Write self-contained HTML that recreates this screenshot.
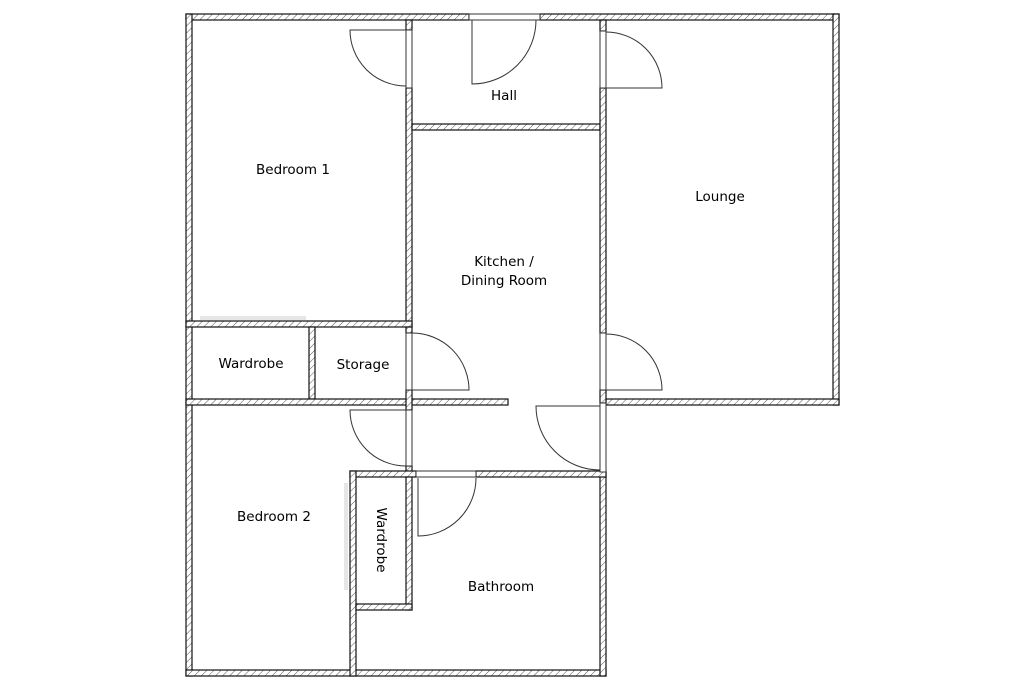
<!DOCTYPE html>
<html><head><meta charset="utf-8"><style>
html,body{margin:0;padding:0;background:#fff;}
svg{display:block;}
text{font-family:"DejaVu Sans","Liberation Sans",sans-serif;font-size:13.5px;fill:#000;}
</style></head><body>
<svg width="1024" height="684" viewBox="0 0 1024 684" xmlns="http://www.w3.org/2000/svg">
<defs>
<pattern id="h" patternUnits="userSpaceOnUse" width="5" height="5" patternTransform="rotate(45)">
<rect width="5" height="5" fill="#fff"/>
<line x1="0" y1="0" x2="0" y2="5" stroke="#555" stroke-width="1"/>
</pattern>
</defs>
<rect x="200" y="316" width="106" height="4" fill="#e6e6e6"/>
<rect x="344" y="483" width="4" height="107" fill="#e6e6e6"/>
<g fill="url(#h)" stroke="#111" stroke-width="1.2">
<rect x="186" y="14" width="283" height="6"/>
<rect x="540" y="14" width="299" height="6"/>
<rect x="186" y="14" width="6" height="662"/>
<rect x="186" y="670" width="420" height="6"/>
<rect x="833" y="14" width="6" height="391"/>
<rect x="606" y="399" width="233" height="6"/>
<rect x="406" y="88" width="6" height="239"/>
<rect x="406" y="20" width="6" height="10"/>
<rect x="412" y="124" width="188" height="6"/>
<rect x="600" y="20" width="6" height="11"/>
<rect x="600" y="88" width="6" height="245"/>
<rect x="600" y="390" width="6" height="13"/>
<rect x="600" y="472" width="6" height="204"/>
<rect x="186" y="321" width="226" height="6"/>
<rect x="309" y="327" width="6" height="72"/>
<rect x="186" y="399" width="322" height="6"/>
<rect x="406" y="327" width="6" height="6"/>
<rect x="406" y="390" width="6" height="20"/>
<rect x="406" y="466" width="6" height="10"/>
<rect x="350" y="471" width="66" height="6"/>
<rect x="476" y="471" width="130" height="6"/>
<rect x="350" y="471" width="6" height="205"/>
<rect x="406" y="477" width="6" height="133"/>
<rect x="356" y="604" width="56" height="6"/>
</g>
<g fill="#fff" stroke="#333" stroke-width="1">
<rect x="469" y="14" width="71" height="6"/>
<rect x="406" y="30" width="6" height="58"/>
<rect x="600" y="31" width="6" height="57"/>
<rect x="600" y="333" width="6" height="57"/>
<rect x="600" y="403" width="6" height="69"/>
<rect x="406" y="333" width="6" height="57"/>
<rect x="406" y="410" width="6" height="56"/>
<rect x="416" y="471" width="60" height="6"/>
</g>
<g fill="none" stroke="#333" stroke-width="1">
<path d="M406 30 H350 A56 56 0 0 0 406 86"/>
<path d="M472 20 V84 A64 64 0 0 0 536 20"/>
<path d="M606 88 H662 A56 56 0 0 0 606 32"/>
<path d="M412 390 H469 A57 57 0 0 0 412 333"/>
<path d="M606 390 H662 A56 56 0 0 0 606 334"/>
<path d="M600 406 H536 A64 64 0 0 0 600 470"/>
<path d="M406 410 H350 A56 56 0 0 0 406 466"/>
<path d="M418 478 V536 A58 58 0 0 0 476 478"/>
</g>
<text x="293" y="174" text-anchor="middle">Bedroom 1</text>
<text x="504" y="100" text-anchor="middle">Hall</text>
<text x="720" y="201" text-anchor="middle">Lounge</text>
<text x="504" y="266" text-anchor="middle">Kitchen /</text>
<text x="504" y="285" text-anchor="middle">Dining Room</text>
<text x="251" y="368" text-anchor="middle">Wardrobe</text>
<text x="363" y="369" text-anchor="middle">Storage</text>
<text x="274" y="521" text-anchor="middle">Bedroom 2</text>
<text x="501" y="591" text-anchor="middle">Bathroom</text>
<text x="0" y="0" text-anchor="middle" transform="translate(377,540) rotate(90)">Wardrobe</text>
</svg>
</body></html>
